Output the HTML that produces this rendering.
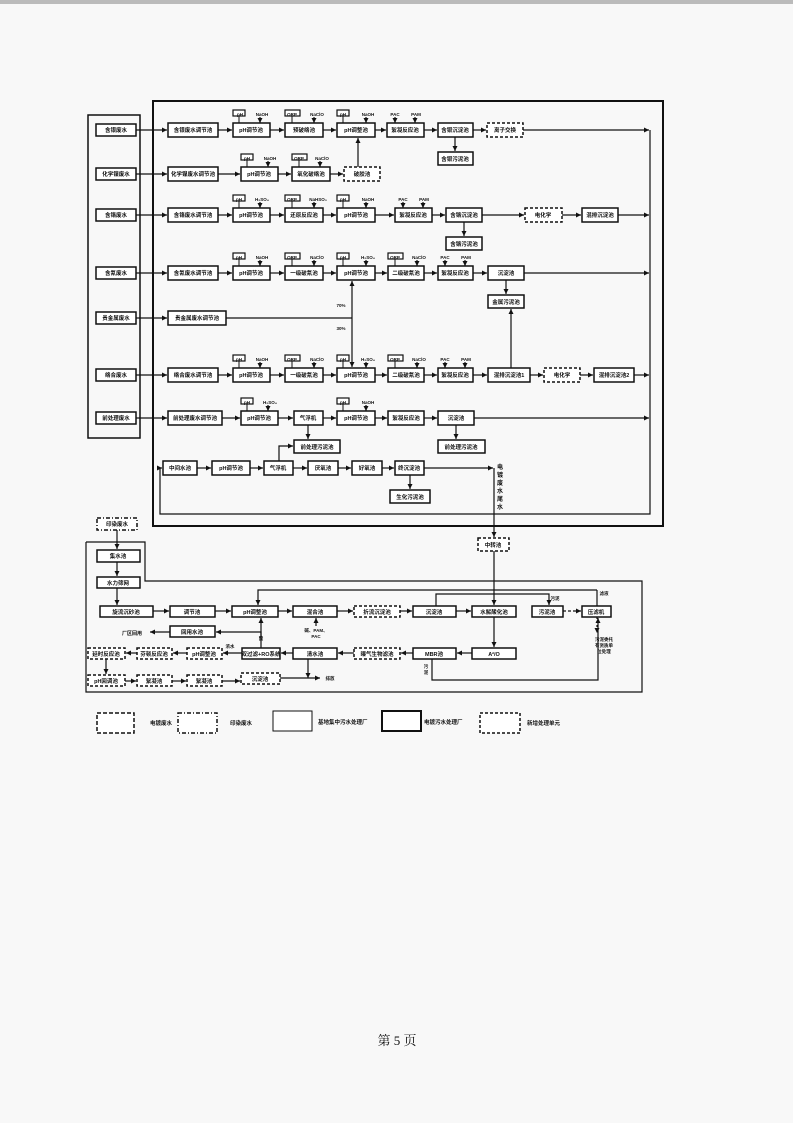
<!DOCTYPE html>
<html><head><meta charset="utf-8"><style>
html,body{margin:0;padding:0;background:#f8f8f8;}
svg{display:block}
text{font-family:"Liberation Sans","Noto Sans CJK SC",sans-serif;font-weight:bold;fill:#111;}
</style></head><body>
<svg width="793" height="1123" viewBox="0 0 793 1123" xmlns="http://www.w3.org/2000/svg">
<defs>
<marker id="a" markerWidth="6" markerHeight="6" refX="5" refY="3" orient="auto" markerUnits="userSpaceOnUse"><path d="M0,0.5 L5,3 L0,5.5z" fill="#111"/></marker>
</defs>
<rect x="0" y="0" width="793" height="4" fill="#bbb"/>
<g fill="none" stroke="#111">
<rect x="88" y="115" width="52" height="323" stroke-width="1.5"/>
<rect x="153" y="101" width="510" height="425" stroke-width="2"/>
<polyline points="160,468 160,514 650,514 650,130" stroke-width="1.2"/>
<polyline points="86,542 145,542 145,581 642,581 642,692 86,692 86,542" stroke-width="1.2"/>
</g>
<g fill="#fff" stroke="#111" stroke-width="1.5">
<rect x="96" y="124" width="40" height="12"/><rect x="96" y="168" width="40" height="12"/><rect x="96" y="209" width="40" height="12"/><rect x="96" y="267" width="40" height="12"/><rect x="96" y="312" width="40" height="12"/><rect x="96" y="369" width="40" height="12"/><rect x="96" y="412" width="40" height="12"/>
<rect x="168" y="123" width="50" height="14"/><rect x="233" y="123" width="37" height="14"/><rect x="285" y="123" width="38" height="14"/><rect x="337" y="123" width="38" height="14"/><rect x="387" y="123" width="37" height="14"/><rect x="438" y="123" width="35" height="14"/><rect x="487" y="123" width="36" height="14" stroke-dasharray="3,2"/>
<rect x="438" y="152" width="35" height="13"/>
<rect x="168" y="167" width="50" height="14"/><rect x="241" y="167" width="37" height="14"/><rect x="292" y="167" width="38" height="14"/><rect x="344" y="167" width="36" height="14" stroke-dasharray="3,2"/>
<rect x="168" y="208" width="50" height="14"/><rect x="233" y="208" width="37" height="14"/><rect x="285" y="208" width="38" height="14"/><rect x="337" y="208" width="38" height="14"/><rect x="395" y="208" width="37" height="14"/><rect x="446" y="208" width="36" height="14"/><rect x="525" y="208" width="37" height="14" stroke-dasharray="3,2"/><rect x="582" y="208" width="36" height="14"/>
<rect x="446" y="237" width="36" height="13"/>
<rect x="168" y="266" width="50" height="14"/><rect x="233" y="266" width="37" height="14"/><rect x="285" y="266" width="38" height="14"/><rect x="337" y="266" width="38" height="14"/><rect x="388" y="266" width="36" height="14"/><rect x="438" y="266" width="35" height="14"/><rect x="488" y="266" width="36" height="14"/>
<rect x="488" y="295" width="36" height="13"/>
<rect x="168" y="311" width="58" height="14"/>
<rect x="168" y="368" width="50" height="14"/><rect x="233" y="368" width="37" height="14"/><rect x="285" y="368" width="38" height="14"/><rect x="337" y="368" width="38" height="14"/><rect x="388" y="368" width="36" height="14"/><rect x="438" y="368" width="35" height="14"/><rect x="488" y="368" width="42" height="14"/><rect x="544" y="368" width="36" height="14" stroke-dasharray="3,2"/><rect x="594" y="368" width="40" height="14"/>
<rect x="168" y="411" width="54" height="14"/><rect x="241" y="411" width="37" height="14"/><rect x="294" y="411" width="29" height="14"/><rect x="337" y="411" width="38" height="14"/><rect x="388" y="411" width="36" height="14"/><rect x="438" y="411" width="36" height="14"/>
<rect x="294" y="440" width="46" height="13"/><rect x="438" y="440" width="47" height="13"/>
<rect x="163" y="461" width="34" height="14"/><rect x="212" y="461" width="38" height="14"/><rect x="264" y="461" width="29" height="14"/><rect x="308" y="461" width="30" height="14"/><rect x="352" y="461" width="30" height="14"/><rect x="395" y="461" width="29" height="14"/>
<rect x="390" y="490" width="40" height="13"/>
<rect x="478" y="538" width="31" height="13" stroke-dasharray="3,2"/>
<rect x="97" y="518" width="40" height="12" stroke-dasharray="4,2,1,2"/>
<rect x="97" y="550" width="43" height="12"/><rect x="97" y="577" width="43" height="11"/>
<rect x="100" y="606" width="53" height="11"/><rect x="170" y="606" width="45" height="11"/><rect x="232" y="606" width="46" height="11"/><rect x="293" y="606" width="44" height="11"/><rect x="354" y="606" width="46" height="11" stroke-dasharray="3,2"/><rect x="413" y="606" width="43" height="11"/><rect x="472" y="606" width="44" height="11"/><rect x="532" y="606" width="31" height="11"/><rect x="582" y="606" width="29" height="11"/>
<rect x="170" y="626" width="45" height="11"/>
<rect x="88" y="648" width="37" height="11" stroke-dasharray="3,2"/><rect x="137" y="648" width="35" height="11" stroke-dasharray="3,2"/><rect x="187" y="648" width="35" height="11" stroke-dasharray="3,2"/><rect x="242" y="648" width="38" height="11"/><rect x="293" y="648" width="44" height="11"/><rect x="354" y="648" width="46" height="11" stroke-dasharray="3,2"/><rect x="413" y="648" width="43" height="11"/><rect x="472" y="648" width="44" height="11"/>
<rect x="88" y="675" width="37" height="11" stroke-dasharray="3,2"/><rect x="137" y="675" width="35" height="11" stroke-dasharray="3,2"/><rect x="187" y="675" width="35" height="11" stroke-dasharray="3,2"/><rect x="241" y="673" width="39" height="11" stroke-dasharray="3,2"/>
<rect x="97" y="713" width="37" height="20" stroke-dasharray="4,2"/>
<rect x="178" y="713" width="39" height="20" stroke-dasharray="4,2,1,2"/>
<rect x="273" y="711" width="39" height="20" stroke-width="1"/>
<rect x="382" y="711" width="39" height="20" stroke-width="2"/>
<rect x="480" y="713" width="40" height="20" stroke-dasharray="3,2"/>
</g>
<g fill="#fff" stroke="#111" stroke-width="1.2">
<rect x="233" y="110" width="12" height="6"/><rect x="285" y="110" width="15" height="6"/><rect x="337" y="110" width="12" height="6"/>
<rect x="241" y="154" width="12" height="6"/><rect x="292" y="154" width="15" height="6"/>
<rect x="233" y="195" width="12" height="6"/><rect x="285" y="195" width="15" height="6"/><rect x="337" y="195" width="12" height="6"/>
<rect x="233" y="253" width="12" height="6"/><rect x="285" y="253" width="15" height="6"/><rect x="337" y="253" width="12" height="6"/><rect x="388" y="253" width="15" height="6"/>
<rect x="233" y="355" width="12" height="6"/><rect x="285" y="355" width="15" height="6"/><rect x="337" y="355" width="12" height="6"/><rect x="388" y="355" width="15" height="6"/>
<rect x="241" y="398" width="12" height="6"/><rect x="337" y="398" width="12" height="6"/>
</g>
<g stroke="#111" stroke-width="1">
<line x1="239" y1="116" x2="239" y2="123"/><line x1="292" y1="116" x2="292" y2="123"/><line x1="343" y1="116" x2="343" y2="123"/>
<line x1="247" y1="160" x2="247" y2="167"/><line x1="299" y1="160" x2="299" y2="167"/>
<line x1="239" y1="201" x2="239" y2="208"/><line x1="292" y1="201" x2="292" y2="208"/><line x1="343" y1="201" x2="343" y2="208"/>
<line x1="239" y1="259" x2="239" y2="266"/><line x1="292" y1="259" x2="292" y2="266"/><line x1="343" y1="259" x2="343" y2="266"/><line x1="395" y1="259" x2="395" y2="266"/>
<line x1="239" y1="361" x2="239" y2="368"/><line x1="292" y1="361" x2="292" y2="368"/><line x1="343" y1="361" x2="343" y2="368"/><line x1="395" y1="361" x2="395" y2="368"/>
<line x1="247" y1="404" x2="247" y2="411"/><line x1="343" y1="404" x2="343" y2="411"/>
</g>
<g fill="none" stroke="#111" stroke-width="1.2" marker-end="url(#a)">
<path d="M260,117V123"/><path d="M314,117V123"/><path d="M366,117V123"/><path d="M395,117V123"/><path d="M415,117V123"/>
<path d="M268,161V167"/><path d="M320,161V167"/>
<path d="M260,202V208"/><path d="M314,202V208"/><path d="M366,202V208"/><path d="M403,202V208"/><path d="M423,202V208"/>
<path d="M260,260V266"/><path d="M314,260V266"/><path d="M366,260V266"/><path d="M417,260V266"/><path d="M445,260V266"/><path d="M465,260V266"/>
<path d="M260,362V368"/><path d="M314,362V368"/><path d="M366,362V368"/><path d="M417,362V368"/><path d="M445,362V368"/><path d="M465,362V368"/>
<path d="M268,405V411"/><path d="M366,405V411"/>
<path d="M136,130H167"/><path d="M136,174H167"/><path d="M136,215H167"/><path d="M136,273H167"/><path d="M136,318H167"/><path d="M136,375H167"/><path d="M136,418H167"/>
<path d="M218,130H232"/><path d="M270,130H284"/><path d="M323,130H336"/><path d="M375,130H386"/><path d="M424,130H437"/><path d="M473,130H486"/><path d="M523,130H649"/><path d="M455,137V151"/>
<path d="M218,174H240"/><path d="M278,174H291"/><path d="M330,174H343"/><path d="M358,167V138"/>
<path d="M218,215H232"/><path d="M270,215H284"/><path d="M323,215H336"/><path d="M375,215H394"/><path d="M432,215H445"/><path d="M482,215H524"/><path d="M562,215H581"/><path d="M618,215H649"/><path d="M464,222V236"/>
<path d="M218,273H232"/><path d="M270,273H284"/><path d="M323,273H336"/><path d="M375,273H387"/><path d="M424,273H437"/><path d="M473,273H487"/><path d="M524,273H649"/><path d="M506,280V294"/>
<path d="M352,318V281"/><path d="M352,318V367"/>
<path d="M218,375H232"/><path d="M270,375H284"/><path d="M323,375H336"/><path d="M375,375H387"/><path d="M424,375H437"/><path d="M473,375H487"/><path d="M530,375H543"/><path d="M580,375H593"/><path d="M634,375H649"/><path d="M511,368V309"/>
<path d="M222,418H240"/><path d="M278,418H293"/><path d="M323,418H336"/><path d="M375,418H387"/><path d="M424,418H437"/><path d="M474,418H649"/><path d="M308,425V439"/><path d="M456,425V439"/>
<path d="M160,468H162"/><path d="M197,468H211"/><path d="M250,468H263"/><path d="M293,468H307"/><path d="M338,468H351"/><path d="M382,468H394"/><path d="M424,468H493"/><path d="M410,475V489"/><path d="M279,461V446H293"/>
<path d="M494,468V537"/><path d="M494,551V605"/>
<path d="M117,530V549"/><path d="M117,562V576"/><path d="M117,588V605"/>
<path d="M153,611H169"/><path d="M215,611H231"/><path d="M278,611H292"/><path d="M337,611H353"/><path d="M400,611H412"/><path d="M456,611H471"/>
<path d="M563,611H581" stroke-dasharray="3,2"/>
<path d="M597,590H258V605"/>
<path d="M436,606V594H549V605"/>
<path d="M494,617V647"/>
<path d="M472,653H457"/><path d="M413,653H401"/><path d="M354,653H338"/><path d="M293,653H281"/><path d="M242,653H223"/><path d="M187,653H173"/><path d="M137,653H126"/>
<path d="M106,659V674"/>
<path d="M125,681H136"/><path d="M172,681H186"/><path d="M222,681H240"/><path d="M280,678H320"/>
<path d="M308,659V678"/>
<path d="M261,637V618"/><path d="M316,626V618"/>
<path d="M261,648V632H216"/><path d="M170,632H150"/>
<path d="M432,659V680H598V618"/>
<path d="M597,617V633" stroke-dasharray="2,2"/>
</g>
<g fill="none" stroke="#111" stroke-width="1.2"><path d="M226,318H352"/><path d="M597,606V590"/></g>
<g font-size="5.5" text-anchor="middle">
<text x="116" y="132">含银废水</text><text x="116" y="176">化学镍废水</text><text x="116" y="217">含铬废水</text><text x="116" y="275">含氰废水</text><text x="116" y="320">贵金属废水</text><text x="116" y="377">络合废水</text><text x="116" y="420">前处理废水</text>
<text x="193" y="132">含银废水调节池</text><text x="251" y="132">pH调节池</text><text x="304" y="132">预破络池</text><text x="356" y="132">pH调整池</text><text x="405" y="132">絮凝反应池</text><text x="455" y="132">含银沉淀池</text><text x="505" y="132">离子交换</text><text x="455" y="161">含银污泥池</text>
<text x="193" y="176">化学镍废水调节池</text><text x="259" y="176">pH调节池</text><text x="311" y="176">氧化破络池</text><text x="362" y="176">破胶池</text>
<text x="193" y="217">含铬废水调节池</text><text x="251" y="217">pH调节池</text><text x="304" y="217">还原反应池</text><text x="356" y="217">pH调节池</text><text x="413" y="217">絮凝反应池</text><text x="464" y="217">含铬沉淀池</text><text x="543" y="217">电化学</text><text x="600" y="217">混排沉淀池</text><text x="464" y="246">含铬污泥池</text>
<text x="193" y="275">含氰废水调节池</text><text x="251" y="275">pH调节池</text><text x="304" y="275">一级破氰池</text><text x="356" y="275">pH调节池</text><text x="406" y="275">二级破氰池</text><text x="455" y="275">絮凝反应池</text><text x="506" y="275">沉淀池</text><text x="506" y="304">金属污泥池</text>
<text x="197" y="320">贵金属废水调节池</text>
<text x="193" y="377">络合废水调节池</text><text x="251" y="377">pH调节池</text><text x="304" y="377">一级破氰池</text><text x="356" y="377">pH调节池</text><text x="406" y="377">二级破氰池</text><text x="455" y="377">絮凝反应池</text><text x="509" y="377">混排沉淀池1</text><text x="562" y="377">电化学</text><text x="614" y="377">混排沉淀池2</text>
<text x="195" y="420">前处理废水调节池</text><text x="259" y="420">pH调节池</text><text x="308" y="420">气浮机</text><text x="356" y="420">pH调节池</text><text x="406" y="420">絮凝反应池</text><text x="456" y="420">沉淀池</text><text x="317" y="449">前处理污泥池</text><text x="461" y="449">前处理污泥池</text>
<text x="180" y="470">中间水池</text><text x="231" y="470">pH调节池</text><text x="278" y="470">气浮机</text><text x="323" y="470">厌氧池</text><text x="367" y="470">好氧池</text><text x="409" y="470">终沉淀池</text><text x="410" y="499">生化污泥池</text>
<text x="493" y="547">中转池</text>
<text x="117" y="526">印染废水</text><text x="118" y="558">集水池</text><text x="118" y="585">水力筛网</text>
<text x="126" y="614">旋流沉砂池</text><text x="192" y="614">调节池</text><text x="255" y="614">pH调整池</text><text x="315" y="614">混合池</text><text x="377" y="614">折流沉淀池</text><text x="434" y="614">沉淀池</text><text x="494" y="614">水解酸化池</text><text x="547" y="614">污泥池</text><text x="596" y="614">压滤机</text>
<text x="192" y="634">回用水池</text><text x="132" y="635" font-size="5">厂区回用</text>
<text x="106" y="656">延时反应池</text><text x="154" y="656">芬顿反应池</text><text x="204" y="656">pH调整池</text><text x="261" y="656">双过滤+RO系统</text><text x="315" y="656">清水池</text><text x="377" y="656">曝气生物滤池</text><text x="434" y="656">MBR池</text><text x="494" y="656">A²/O</text>
<text x="106" y="683">pH回调池</text><text x="154" y="683">絮凝池</text><text x="204" y="683">絮凝池</text><text x="260" y="681">沉淀池</text>
</g>
<g font-size="4.5" text-anchor="middle">
<text x="240" y="116">pH</text><text x="292" y="116">ORP</text><text x="343" y="116">pH</text>
<text x="247" y="160">pH</text><text x="299" y="160">ORP</text>
<text x="239" y="201">pH</text><text x="292" y="201">ORP</text><text x="343" y="201">pH</text>
<text x="239" y="259">pH</text><text x="292" y="259">ORP</text><text x="343" y="259">pH</text><text x="395" y="259">ORP</text>
<text x="239" y="361">pH</text><text x="292" y="361">ORP</text><text x="343" y="361">pH</text><text x="395" y="361">ORP</text>
<text x="247" y="404">pH</text><text x="343" y="404">pH</text>
<text x="262" y="116">NaOH</text><text x="317" y="116">NaClO</text><text x="368" y="116">NaOH</text><text x="395" y="116">PAC</text><text x="416" y="116">PAM</text>
<text x="270" y="160">NaOH</text><text x="322" y="160">NaClO</text>
<text x="262" y="201">H₂SO₄</text><text x="318" y="201">NaHSO₃</text><text x="368" y="201">NaOH</text><text x="403" y="201">PAC</text><text x="424" y="201">PAM</text>
<text x="262" y="259">NaOH</text><text x="317" y="259">NaClO</text><text x="368" y="259">H₂SO₄</text><text x="419" y="259">NaClO</text><text x="445" y="259">PAC</text><text x="466" y="259">PAM</text>
<text x="262" y="361">NaOH</text><text x="317" y="361">NaClO</text><text x="368" y="361">H₂SO₄</text><text x="419" y="361">NaClO</text><text x="445" y="361">PAC</text><text x="466" y="361">PAM</text>
<text x="270" y="404">H₂SO₄</text><text x="368" y="404">NaOH</text>
<text x="341" y="307">70%</text><text x="341" y="330">30%</text>
<text x="261" y="640">酸</text><text x="316" y="632">碱、PAM、</text><text x="316" y="638">PAC</text>
<text x="230" y="648">浓水</text><text x="330" y="680">排放</text>
<text x="555" y="600">污泥</text><text x="604" y="595">滤液</text><text x="426" y="668">污</text><text x="426" y="674">泥</text>
<text x="604" y="641">污泥委托</text><text x="604" y="647">有资质单</text><text x="604" y="653">位处理</text>
</g>
<g font-size="6" text-anchor="middle">
<text x="500" y="469">电</text><text x="500" y="477">镀</text><text x="500" y="485">废</text><text x="500" y="493">水</text><text x="500" y="501">尾</text><text x="500" y="509">水</text>
</g>
<g font-size="5.5">
<text x="150" y="725">电镀废水</text><text x="230" y="725">印染废水</text><text x="318" y="724">基地集中污水处理厂</text><text x="424" y="724">电镀污水处理厂</text><text x="527" y="725">新增处理单元</text>
</g>
<text x="397" y="1045" font-size="13" text-anchor="middle" style="font-weight:normal;font-family:'Liberation Serif','Noto Serif CJK SC',serif">第 5 页</text>
</svg>
</body></html>
